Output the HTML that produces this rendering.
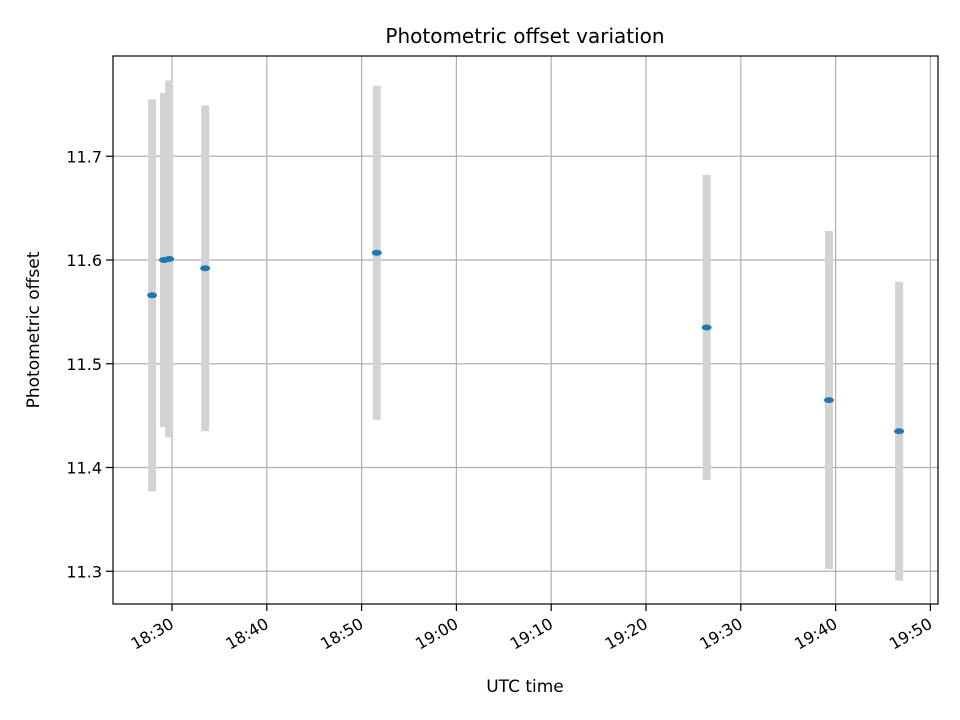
<!DOCTYPE html>
<html><head><meta charset="utf-8"><style>
body{margin:0;background:#fff;}
svg{display:block;font-family:"DejaVu Sans","Liberation Sans",sans-serif;}
</style></head><body>
<svg id="chart" width="960" height="720">
<rect width="960" height="720" fill="#fff"/>
<g id="grid"></g>
<g id="bars"></g>
<g id="points"></g>
<rect x="113" y="56" width="825" height="548" fill="none" stroke="#000" stroke-width="1.2"/>
<g id="axes"></g>
<text x="525" y="43" text-anchor="middle" font-size="20">Photometric offset variation</text>
<text x="525" y="692" text-anchor="middle" font-size="17">UTC time</text>
<text transform="translate(39,330) rotate(-90)" text-anchor="middle" font-size="17">Photometric offset</text>
</svg>
<script>
// minutes after 18:30
const times=[-2.1,-0.85,-0.3,3.5,21.6,56.4,69.3,76.7];
const values=[11.566,11.600,11.601,11.592,11.607,11.535,11.465,11.435];
const errors=[0.189,0.161,0.172,0.157,0.161,0.147,0.163,0.144];
const yTicks=[11.3,11.4,11.5,11.6,11.7];
const xTickMinutes=[0,10,20,30,40,50,60,70,80];
const xTickLabels=["18:30","18:40","18:50","19:00","19:10","19:20","19:30","19:40","19:50"];
const NS="http://www.w3.org/2000/svg";
function xs(m){return 172+m*9.48;}
function ys(v){return 260-(v-11.6)*1037.5;}
function mk(tag,attrs,parent){const e=document.createElementNS(NS,tag);for(const k in attrs)e.setAttribute(k,attrs[k]);document.getElementById(parent).appendChild(e);return e;}
yTicks.forEach((t,i)=>{
  const y=ys(t);
  const g=mk('line',{x1:113,x2:938,y1:y,y2:y,stroke:'#b0b0b0','stroke-width':1.2},'grid');
  
  
  const tk=mk('line',{x1:106,x2:113,y1:y,y2:y,stroke:'#000','stroke-width':1.2},'axes');
  
  
  const tx=mk('text',{x:102,y:y+6,'text-anchor':'end','font-size':16},'axes');
  tx.textContent=t.toFixed(1);
  
  
});
xTickMinutes.forEach((m,i)=>{
  const x=xs(m);
  const g=mk('line',{x1:x,x2:x,y1:56,y2:604,stroke:'#b0b0b0','stroke-width':1.2},'grid');
  
  
  const tk=mk('line',{x1:x,x2:x,y1:604,y2:611,stroke:'#000','stroke-width':1.2},'axes');
  
  
  const tx=mk('text',{transform:`translate(${x+3},${627}) rotate(-30)`,'text-anchor':'end','font-size':16},'axes');
  tx.textContent=xTickLabels[i];
  
  
});
times.forEach((m,i)=>{
  const x=xs(m);
  const b=mk('line',{x1:x,x2:x,y1:ys(values[i]+errors[i]),y2:ys(values[i]-errors[i]),stroke:'#d3d3d3','stroke-width':8},'bars');
  
  
  const p=mk('ellipse',{cx:x,cy:ys(values[i]),rx:5,ry:3,fill:'#1f77b4'},'points');
  
  
});
</script>
</body></html>
